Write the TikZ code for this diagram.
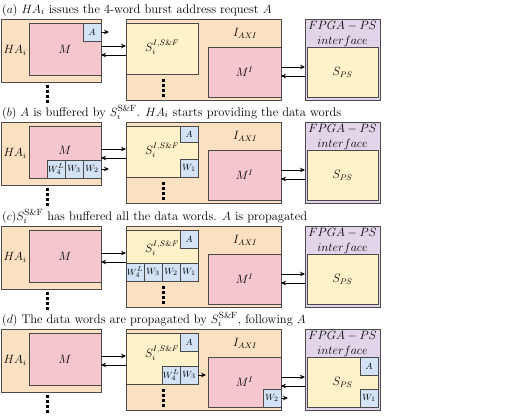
\documentclass[tikz,border=0pt]{standalone}
\usetikzlibrary{arrows.meta}
\definecolor{peach}{HTML}{FBE0C2}
\definecolor{mpink}{HTML}{F5C6CB}
\definecolor{syellow}{HTML}{FFF1C9}
\definecolor{wblue}{HTML}{D3E2F5}
\definecolor{ifpurple}{HTML}{E2D5EA}
\definecolor{edge}{HTML}{4A4A4A}
\tikzset{
  box/.style={draw=edge,line width=0.9pt,inner sep=0pt,outer sep=0pt,anchor=north west},
  word/.style={box,fill=wblue,minimum width=18pt,minimum height=18pt,font=\fontsize{9.5pt}{11pt}\selectfont},
  link/.style={-{Stealth[length=5pt,width=4.5pt]},line width=0.7pt},
  vdots/.style={line width=3pt,dash pattern=on 3pt off 2pt},
  lbl/.style={inner sep=0pt,font=\fontsize{11.5pt}{13pt}\selectfont},
  title/.style={inner sep=0pt,anchor=base west,font=\fontsize{12.5pt}{14pt}\selectfont},
}
% frame of one panel: #1 panel letter, #2 top of the boxes
\newcommand{\frameof}[2]{%
\begin{scope}[shift={(0,#2)}]
\node[box,fill=peach,minimum width=100pt,minimum height=63pt] (ha-#1) at (1,0) {};
\node[box,fill=mpink,minimum width=72pt,minimum height=52pt] (m-#1) at (29,4) {};
\node[lbl] (hal-#1) at (15,31) {$HA_i$};
\node[box,fill=peach,minimum width=155pt,minimum height=81pt] (iaxi-#1) at (126,0) {};
\node[box,fill=syellow,minimum width=72pt,minimum height=51pt] (s-#1) at (126,4) {};
\node[lbl] (iaxil-#1) at (245,14) {$I_{AXI}$};
\node[box,fill=mpink,minimum width=73pt,minimum height=50pt,font=\fontsize{11.5pt}{13pt}\selectfont] (mi-#1) at (208,28) {$M^I$};
\node[box,fill=ifpurple,minimum width=75pt,minimum height=81pt] (fpga-#1) at (305,0) {};
\node[lbl] (fpgal-#1) at (342.5,7) {$FPGA-PS$};
\node[lbl] (ifl-#1) at (342.5,22) {$interface$};
\node[box,fill=syellow,minimum width=71pt,minimum height=50pt,font=\fontsize{11.5pt}{13pt}\selectfont] (sps-#1) at (307,28) {$S_{PS}$};
\draw[vdots] (47,66) -- (47,84);
\draw[vdots] (163,60) -- (163,78);
\draw[link] ([yshift=-27pt]ha-#1.north east) -- ([yshift=-27pt]iaxi-#1.north west);
\draw[link] ([yshift=-36pt]iaxi-#1.north west) -- ([yshift=-36pt]ha-#1.north east);
\draw[link] ([yshift=-48pt]iaxi-#1.north east) -- ([yshift=-48pt]fpga-#1.north west);
\draw[link] ([yshift=-57pt]fpga-#1.north west) -- ([yshift=-57pt]iaxi-#1.north east);
\end{scope}}
\begin{document}
\begin{tikzpicture}[x=1pt,y=-1pt]
\useasboundingbox (0,0) rectangle (516,418);
% (a)
\frameof{a}{19}
\begin{scope}[shift={(0,19)}]
\node[title] (ta) at (2,-6) {$(a)$ $HA_i$ issues the 4-word burst address request $A$};
\node[lbl] (ml-a) at (65,30) {$M$};
\node[lbl] (sl-a) at (162,28) {$S_i^{I,S\&F}$};
\node[word] (addr-a) at (83,4) {$A$};
\draw[link] (addr-a.east) -- ++(8,0);
\end{scope}
% (b)
\frameof{b}{122}
\begin{scope}[shift={(0,122)}]
\node[title] (tb) at (2,-6) {$(b)$ $A$ is buffered by $S_i^{\mathrm{S\&F}}$. $HA_i$ starts providing the data words};
\node[lbl] (ml-b) at (65,28) {$M$};
\node[lbl] (sl-b) at (162,28) {$S_i^{I,S\&F}$};
\node[word] (w4-b) at (47,38) {$W_4^L$};
\node[word] (w3-b) at (65,38) {$W_3$};
\node[word] (w2-b) at (83,38) {$W_2$};
\draw[link] (w2-b.east) -- ++(8,0);
\node[word,minimum height=16pt] (addr-b) at (180,4) {$A$};
\node[word] (w1-b) at (180,37) {$W_1$};
\end{scope}
% (c)
\frameof{c}{226}
\begin{scope}[shift={(0,226)}]
\node[title] (tc) at (2,-6) {$(c)S_i^{\mathrm{S\&F}}$ has buffered all the data words. $A$ is propagated};
\node[lbl] (ml-c) at (65,30) {$M$};
\node[lbl] (sl-c) at (162,22) {$S_i^{I,S\&F}$};
\node[word] (addr-c) at (180,4) {$A$};
\node[word] (w4-c) at (126,37) {$W_4^L$};
\node[word] (w3-c) at (144,37) {$W_3$};
\node[word] (w2-c) at (162,37) {$W_2$};
\node[word] (w1-c) at (180,37) {$W_1$};
\end{scope}
% (d)
\frameof{d}{329}
\begin{scope}[shift={(0,329)}]
\node[title] (td) at (2,-6) {$(d)$ The data words are propagated by $S_i^{\mathrm{S\&F}}$, following $A$};
\node[lbl] (ml-d) at (65,30) {$M$};
\node[lbl] (sl-d) at (162,24) {$S_i^{I,S\&F}$};
\node[word] (addr-d) at (180,4) {$A$};
\node[word] (w4-d) at (162,37) {$W_4^L$};
\node[word] (w3-d) at (180,37) {$W_3$};
\draw[link] (w3-d.east) -- ++(8,0);
\node[word] (w2-d) at (263,60) {$W_2$};
\draw[link] (w2-d.east) -- ++(7,0);
\node[word] (addr2-d) at (360,28) {$A$};
\node[word] (w1-d) at (360,60) {$W_1$};
\end{scope}
\end{tikzpicture}
\end{document}
